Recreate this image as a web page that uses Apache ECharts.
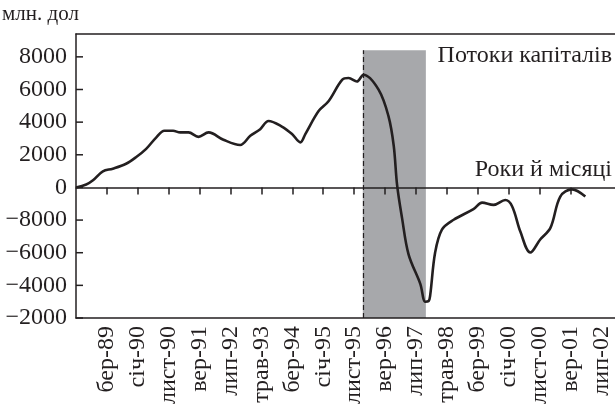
<!DOCTYPE html>
<html>
<head>
<meta charset="utf-8">
<script src="https://cdn.jsdelivr.net/npm/echarts@6/dist/echarts.min.js"></script>
<style>
  html, body { margin: 0; padding: 0; background: #fff; }
  #chart { width: 615px; height: 407px; }
</style>
</head>
<body>
<div id="chart"></div>
<script>
// підписи осі X: кожні 10 місяців, 0 = бер-89
var xLabels = ['бер-89', 'січ-90', 'лист-90', 'вер-91', 'лип-92', 'трав-93', 'бер-94', 'січ-95',
  'лист-95', 'вер-96', 'лип-97', 'трав-98', 'бер-99', 'січ-00', 'лист-00', 'вер-01', 'лип-02']
var xTickValues = [0, 10, 20, 30, 40, 50, 60, 70, 80, 90, 100, 110, 120, 130, 140, 150]
var xLabelValues = [0, 10, 20, 30, 40, 50, 60, 70, 80, 90, 100, 110, 120, 130, 140, 150, 160]

// підписи осі Y так, як вони надруковані в оригіналі
var yTickValues = [8000, 6000, 4000, 2000, 0, -2000, -4000, -6000, -8000]
var yTickLabels = ['8000', '6000', '4000', '2000', '0', '\u22128000', '\u22126000', '\u22124000', '\u22122000']

// місяці від бер-89 та значення потоків капіталів
var months = [-10, -6.7, -4.5, -1.3, 1.9, 6.2, 9.5, 12.7, 16, 18.6, 21.4, 23.7, 26.4, 29.6, 32.9,
  37.7, 43.1, 46.4, 49.6, 52.3, 56.6, 59.9, 62.6, 64.2, 68.5, 71.7, 76.1, 78.2, 80.9, 83,
  87.9, 91.1, 92.8, 93.9, 95.5, 97.6, 101.4, 103, 104.1, 104.6, 106.2, 108.4, 112.2, 118.6,
  121.4, 125.1, 128.9, 131.1, 133.8, 137, 140.2, 143.5, 146.7, 150.5, 154.8]
var flows = [0, 180, 440, 990, 1150, 1450, 1860, 2360, 3070, 3470, 3470, 3370, 3370, 3100, 3370,
  2920, 2600, 3160, 3570, 4070, 3730, 3270, 2760, 3270, 4680, 5280, 6590, 6700, 6490, 6900,
  5990, 4370, 2560, 140, -1880, -4100, -5910, -7000, -6960, -6610, -3990, -2580, -1980, -1330,
  -930, -1070, -770, -1150, -2720, -3990, -3190, -2480, -560, -120, -560]

// криза: сіра смуга
var crisisStart = 82.8
var crisisEnd = 103.2
var crisisTop = 8400

var xMin = -10

var ink = '#231f20'
var serif = 'Liberation Serif'

var chart = echarts.init(document.getElementById('chart'))

var xBase = {
  type: 'value',
  min: xMin,
  max: 164.4,
  interval: 10,
  splitLine: { show: false },
  z: 5
}

var texts = [
  { type: 'text', left: 2, top: 4, style: { text: 'млн. дол', fontFamily: serif, fontSize: 21, fill: ink } },
  { type: 'text', right: 3, top: 44, style: { text: 'Потоки капіталів', fontFamily: serif, fontSize: 24, fill: ink } },
  { type: 'text', right: 3, top: 158, style: { text: 'Роки й місяці', fontFamily: serif, fontSize: 24, fill: ink } }
]

chart.setOption({
  animation: false,
  grid: { left: 76, right: 0, top: 34, bottom: 89, containLabel: false },
  xAxis: [
    Object.assign({}, xBase, {
      position: 'bottom',
      axisLine: { onZero: true, lineStyle: { color: ink, width: 1.5 } },
      axisTick: { show: true, length: 7, customValues: xTickValues, lineStyle: { color: ink, width: 1.5 } },
      axisLabel: { show: false }
    }),
    Object.assign({}, xBase, {
      position: 'bottom',
      axisLine: { onZero: false, lineStyle: { color: ink, width: 1.5 } },
      axisTick: { show: false },
      axisLabel: {
        rotate: 90,
        margin: 8,
        customValues: xLabelValues,
        color: ink,
        fontFamily: serif,
        fontSize: 24,
        formatter: function (v) { return xLabels[Math.round(v / 10)] || '' }
      }
    }),
    Object.assign({}, xBase, {
      position: 'top',
      axisLine: { onZero: false, lineStyle: { color: ink, width: 1.5 } },
      axisTick: { show: false },
      axisLabel: { show: false }
    })
  ],
  yAxis: {
    type: 'value',
    min: -8000,
    max: 9400,
    interval: 2000,
    z: 5,
    splitLine: { show: false },
    axisLine: { show: true, onZero: false, lineStyle: { color: ink, width: 1.5 } },
    axisTick: { show: false },
    axisLabel: {
      margin: 9,
      customValues: yTickValues,
      color: ink,
      fontFamily: serif,
      fontSize: 24,
      formatter: function (v) {
        var i = yTickValues.indexOf(v)
        return i >= 0 ? yTickLabels[i] : ''
      }
    }
  },
  series: [{
    type: 'line',
    xAxisIndex: 0,
    data: months.map(function (m, i) { return [m, flows[i]] }),
    smooth: 0.35,
    showSymbol: false,
    lineStyle: { color: ink, width: 2.6 },
    markArea: {
      silent: true,
      itemStyle: { color: '#a7a8ab' },
      data: [[{ coord: [crisisStart, -8000] }, { coord: [crisisEnd, crisisTop] }]]
    },
    markLine: {
      silent: true,
      symbol: 'none',
      label: { show: false },
      lineStyle: { color: ink, width: 1.2, type: [5, 3] },
      data: [[{ coord: [crisisStart, -8000] }, { coord: [crisisStart, crisisTop] }]]
    }
  }],
  graphic: texts
})

// засічки осі Y всередину: позиції беремо зі шкали осі
var yTicks = yTickValues.map(function (v) {
  var p = chart.convertToPixel({ xAxisIndex: 0, yAxisIndex: 0 }, [xMin, v])
  return {
    type: 'line',
    z: 100,
    shape: { x1: p[0], y1: p[1], x2: p[0] + 7, y2: p[1] },
    style: { stroke: ink, lineWidth: 1.5 }
  }
})
chart.setOption({ graphic: texts.concat(yTicks) })
</script>
</body>
</html>
